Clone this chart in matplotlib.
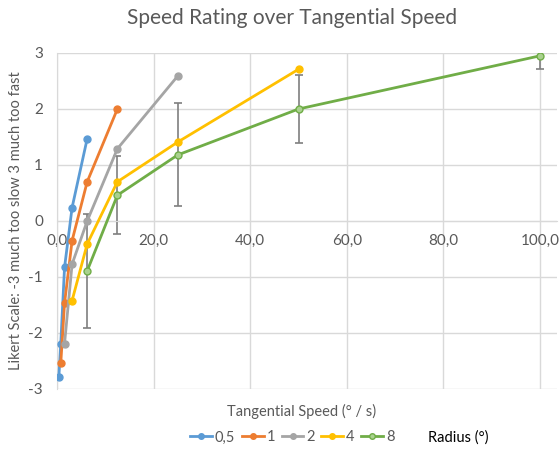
import matplotlib
matplotlib.use("Agg")
import matplotlib.pyplot as plt
from matplotlib.lines import Line2D

plt.rcParams['font.family'] = ['Lato', 'DejaVu Sans']

# tangential speed (deg/s) and rating per radius
radius_labels = ['0,5', '1', '2', '4', '8']
speed_05 = [0.39, 0.78, 1.56, 3.125, 6.25]
rating_05 = [-2.78, -2.19, -0.83, 0.24, 1.47]
speed_1 = [0.78, 1.56, 3.125, 6.25, 12.5]
rating_1 = [-2.54, -1.47, -0.35, 0.70, 2.0]
speed_2 = [1.56, 3.125, 6.25, 12.5, 25]
rating_2 = [-2.19, -0.77, 0.0, 1.29, 2.59]
speed_4 = [3.125, 6.25, 12.5, 25, 50]
rating_4 = [-1.42, -0.41, 0.70, 1.41, 2.71]
speed_8 = [6.25, 12.5, 25, 50, 100]
rating_8 = [-0.89, 0.46, 1.18, 2.0, 2.95]
err_8 = [1.02, 0.70, 0.92, 0.60, 0.24]

colors = ['#5B9BD5', '#ED7D31', '#A5A5A5', '#FFC000', '#70AD47']
text_gray = '#595959'
grid_gray = '#D9D9D9'

fig = plt.figure(figsize=(5.6, 4.51), dpi=100)
ax = fig.add_axes([57 / 560, 1 - 389 / 451, (557 - 57) / 560, (389 - 53) / 451])

series = [(speed_05, rating_05), (speed_1, rating_1), (speed_2, rating_2),
          (speed_4, rating_4), (speed_8, rating_8)]

handles = []
for i, (xs, ys) in enumerate(series):
    face = colors[i]
    if i == 4:
        face = '#A9D18E'
    ax.plot(xs, ys, color=colors[i], lw=2, marker='o', ms=5,
            mfc=face, mec=colors[i], mew=1, zorder=3 + i)
    handles.append(Line2D([], [], color=colors[i], lw=2, marker='o', ms=4,
                          mfc=face, mec=colors[i], mew=1))

# error bars on radius 8
ax.errorbar(speed_8, rating_8, yerr=err_8, fmt='none', ecolor='#7F7F7F',
            elinewidth=1.2, capsize=3, capthick=1.2, zorder=2)

ax.set_xlim(0, 103.5)
ax.set_ylim(-3, 3)
ax.set_xticks([0, 20, 40, 60, 80, 100])
ax.set_xticklabels(['0,0', '20,0', '40,0', '60,0', '80,0', '100,0'])
ax.set_yticks([-3, -2, -1, 0, 1, 2, 3])
ax.set_yticklabels(['-3', '-2', '-1', '0', '1', '2', '3'])

ax.grid(True, color=grid_gray, lw=1, zorder=0)
ax.set_axisbelow(True)
for s in ['top', 'right']:
    ax.spines[s].set_visible(False)
ax.spines['bottom'].set_position(('data', 0))
ax.spines['bottom'].set_color(grid_gray)
ax.spines['left'].set_color(grid_gray)
ax.tick_params(axis='both', length=0, labelsize=11, colors=text_gray)
ax.tick_params(axis='x', pad=9)
ax.tick_params(axis='y', pad=10)

ax.set_xlabel('Tangential Speed (° / s)', fontsize=10.5, color=text_gray)
ax.xaxis.set_label_coords(0.49, -0.045)
ax.set_ylabel('Likert Scale: -3 much too slow 3 much too fast', fontsize=10.5, color=text_gray)
ax.yaxis.set_label_coords(-0.068, 0.5)

fig.text(0.522, 0.96, 'Speed Rating over Tangential Speed', ha='center', va='center',
         fontsize=15, color=text_gray)

fig.legend(handles, radius_labels, loc='center', bbox_to_anchor=(0.522, 0.03),
           ncol=5, frameon=False, fontsize=10.5, handlelength=1.5, columnspacing=0.45,
           handletextpad=0.2, labelcolor=text_gray)
fig.text(0.818, 0.03, 'Radius (°)', ha='center', va='center', fontsize=10.5, color='black')

fig.savefig('out.png', dpi=100)
